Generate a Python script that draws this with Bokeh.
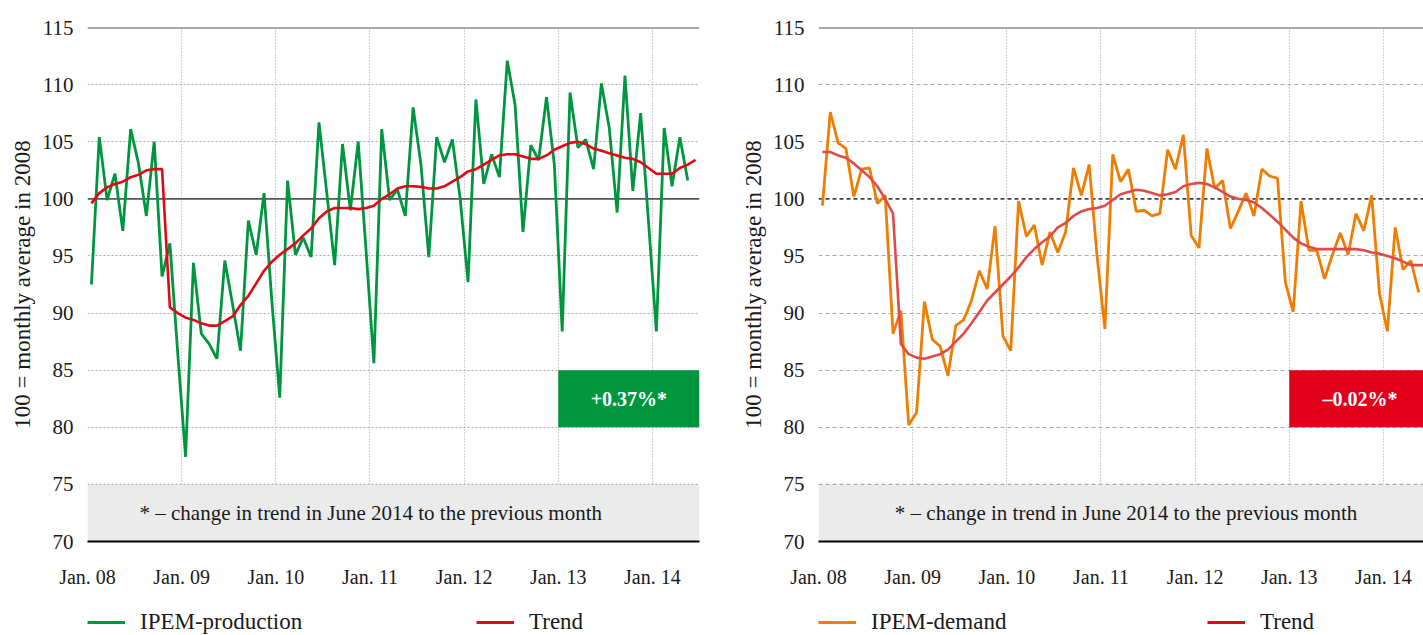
from bokeh.plotting import figure
from bokeh.models import FixedTicker, Legend, LegendItem, Range1d, Span, Label, BoxAnnotation
from bokeh.layouts import row, column
from bokeh.embed import file_html
from bokeh.resources import INLINE

FONT = "Liberation Serif"

# ---------------- data ----------------
tick_months = [0, 12, 24, 36, 48, 60, 72]
tick_labels = ["Jan. 08", "Jan. 09", "Jan. 10", "Jan. 11", "Jan. 12", "Jan. 13", "Jan. 14"]
y_ticks = [70, 75, 80, 85, 90, 95, 100, 105, 110, 115]

production = [
    92.5, 105.4, 99.9, 102.2, 97.2, 106.1, 103.1, 98.5, 105.0, 93.2, 96.1, 86.5,
    77.4, 94.4, 88.2, 87.3, 86.0, 94.6, 90.7, 86.7, 98.1, 95.1, 100.5, 91.0,
    82.6, 101.6, 95.1, 96.6, 94.9, 106.7, 100.5, 94.2, 104.8, 99.0, 105.0, 95.5,
    85.6, 106.1, 99.9, 100.8, 98.5, 108.0, 103.0, 94.9, 105.4, 103.2, 105.2, 100.0,
    92.7, 108.7, 101.3, 103.9, 101.9, 112.1, 108.2, 97.1, 104.7, 103.4, 108.9, 103.0,
    88.4, 109.3, 104.5, 105.2, 102.6, 110.1, 106.2, 98.8, 110.8, 100.7, 107.5, 98.0,
    88.4, 106.2, 101.1, 105.4, 101.6,
]
production_trend = [
    99.6, 100.5, 101.0, 101.3, 101.5, 101.9, 102.1, 102.5, 102.6, 102.6, 90.5, 90.0,
    89.6, 89.4, 89.1, 88.9, 88.9, 89.3, 89.7, 90.7, 91.5, 92.6, 93.7, 94.5,
    95.1, 95.6, 96.1, 96.8, 97.4, 98.3, 98.9, 99.2, 99.2, 99.2, 99.1, 99.2,
    99.4, 100.0, 100.4, 100.9, 101.1, 101.1, 101.05, 100.9, 100.9, 101.1, 101.5, 101.9,
    102.4, 102.6, 103.0, 103.4, 103.8, 103.9, 103.9, 103.7, 103.5, 103.5, 103.8, 104.3,
    104.6, 104.9, 105.0, 104.8, 104.4, 104.2, 104.0, 103.8, 103.6, 103.5, 103.2, 102.7,
    102.2, 102.2, 102.2, 102.7, 103.0, 103.4,
]
demand = [
    99.4, 107.6, 104.9, 104.4, 100.2, 102.6, 102.7, 99.6, 100.3, 88.2, 90.2, 80.2,
    81.3, 91.0, 87.7, 87.1, 84.5, 88.9, 89.4, 91.1, 93.7, 92.1, 97.6, 88.0,
    86.7, 99.8, 96.7, 97.7, 94.2, 97.1, 95.3, 97.1, 102.7, 100.3, 103.0, 95.0,
    88.6, 103.9, 101.5, 102.6, 98.9, 99.0, 98.5, 98.7, 104.3, 102.6, 105.6, 96.8,
    95.7, 104.4, 100.9, 101.6, 97.4, 98.9, 100.5, 98.5, 102.6, 102.0, 101.8, 92.7,
    90.1, 99.8, 95.5, 95.5, 93.0, 95.1, 97.0, 95.1, 98.7, 97.2, 100.3, 91.7,
    88.4, 97.5, 93.8, 94.6, 91.8,
]
demand_trend = [
    104.1, 104.1, 103.8, 103.6, 103.1, 102.5, 101.9, 101.1, 100.0, 98.7, 87.3, 86.4,
    86.1, 86.0, 86.2, 86.4, 86.8, 87.5, 88.2, 89.1, 90.1, 91.1, 91.8, 92.5,
    93.2, 94.0, 94.9, 95.6, 96.2, 96.7, 97.5, 97.9, 98.5, 98.9, 99.1, 99.2,
    99.4, 99.9, 100.4, 100.6, 100.8, 100.7, 100.5, 100.3, 100.4, 100.6, 101.1, 101.3,
    101.4, 101.3, 101.0, 100.6, 100.2, 100.0, 99.9, 99.7, 99.2, 98.6, 98.0, 97.3,
    96.6, 96.1, 95.8, 95.6, 95.6, 95.6, 95.6, 95.6, 95.6, 95.5, 95.3, 95.2,
    95.0, 94.8, 94.5, 94.2, 94.2, 94.2,
]

change_box_months = (60, 78)
change_box_values = (80, 85)
note_band = (70, 75)
note_text = "* \u2013 change in trend in June 2014 to the previous month"

CHART_H = 600
LEGEND_H = 35
LEFT_W = 731
RIGHT_W = 692
BORDER_L = 87
PX_PER_MONTH = 612 / 78


def make_chart(series, trend, s_color, t_color, change_text, box_color,
               width, x_end, min_right, hgrid_dash, ref_dash, ref_color, note_x):
    p = figure(width=width, height=CHART_H, x_range=Range1d(0, x_end), y_range=Range1d(70, 115),
               output_backend="svg", toolbar_location=None,
               min_border_left=BORDER_L, min_border_right=min_right, min_border_top=27,
               min_border_bottom=CHART_H - 27 - 514)
    p.outline_line_color = None
    p.background_fill_color = "white"

    p.yaxis.ticker = FixedTicker(ticks=y_ticks)
    p.yaxis.axis_line_color = None
    p.yaxis.major_tick_line_color = None
    p.yaxis.minor_tick_line_color = None
    p.yaxis.major_label_text_font = FONT
    p.yaxis.major_label_text_font_size = "21px"
    p.yaxis.major_label_text_color = "#1a1a1a"
    p.yaxis.major_label_standoff = 8
    p.yaxis.axis_label = "100 = monthly average in 2008"
    p.yaxis.axis_label_text_font = FONT
    p.yaxis.axis_label_text_font_size = "23px"
    p.yaxis.axis_label_text_font_style = "normal"
    p.yaxis.axis_label_text_color = "#1a1a1a"
    p.yaxis.axis_label_standoff = 4

    p.xaxis.ticker = FixedTicker(ticks=tick_months)
    p.xaxis.major_label_overrides = {m: l for m, l in zip(tick_months, tick_labels)}
    p.xaxis.axis_line_color = "black"
    p.xaxis.axis_line_width = 2
    p.xaxis.major_tick_line_color = None
    p.xaxis.minor_tick_line_color = None
    p.xaxis.major_label_text_font = FONT
    p.xaxis.major_label_text_font_size = "20px"
    p.xaxis.major_label_text_color = "#1a1a1a"
    p.xaxis.major_label_standoff = 18

    p.ygrid.ticker = FixedTicker(ticks=[v for v in y_ticks if v not in (70, 75, 100, 115)])
    p.ygrid.grid_line_color = "#aaaaaa"
    p.ygrid.grid_line_dash = hgrid_dash
    p.ygrid.grid_line_width = 1.2
    p.xgrid.ticker = FixedTicker(ticks=tick_months[1:])
    p.xgrid.grid_line_color = "#aaaaaa"
    p.xgrid.grid_line_dash = "1 2"
    p.xgrid.grid_line_width = 1.2

    p.add_layout(BoxAnnotation(bottom=note_band[0], top=note_band[1], fill_color="#ebebeb",
                               fill_alpha=1, line_color=None, level="underlay"))
    p.add_layout(Span(location=note_band[1], dimension="width", line_color="#aaaaaa",
                      line_dash=hgrid_dash, line_width=1.2, level="underlay"))
    p.add_layout(Span(location=100, dimension="width", line_color=ref_color,
                      line_dash=ref_dash, line_width=1.6, level="underlay"))
    p.add_layout(Span(location=115, dimension="width", line_color="#555555",
                      line_width=2, level="underlay"))
    p.add_layout(Label(x=note_x, y=sum(note_band) / 2, text=note_text, text_font=FONT,
                       text_font_size="21px", text_color="#1a1a1a", text_align="center",
                       text_baseline="middle"))

    p.quad(left=[change_box_months[0]], right=[change_box_months[1]],
           bottom=[change_box_values[0]], top=[change_box_values[1]],
           fill_color=box_color, line_color=None)
    p.add_layout(Label(x=sum(change_box_months) / 2, y=sum(change_box_values) / 2,
                       text=change_text, text_font=FONT, text_font_size="20px",
                       text_font_style="bold", text_color="white", text_align="center",
                       text_baseline="middle"))

    xs = [i + 0.5 for i in range(len(series))]
    xt = [i + 0.5 for i in range(len(trend))]
    p.line(xs, series, line_color=s_color, line_width=2.8)
    p.line(xt, trend, line_color=t_color, line_width=2.6)
    return p


def make_legend(name, s_color, t_leg_color, width, min_right):
    q = figure(width=width, height=LEGEND_H, x_range=Range1d(0, 1), y_range=Range1d(0, 1),
               output_backend="svg", toolbar_location=None,
               min_border_left=BORDER_L, min_border_right=min_right, min_border_top=0,
               min_border_bottom=0)
    q.axis.visible = False
    q.grid.visible = False
    q.outline_line_color = None
    # swatch-only renderers, kept outside the visible range
    r1 = q.line([5, 6], [5, 5], line_color=s_color, line_width=3)
    r2 = q.line([5, 6], [5, 5], line_color=t_leg_color, line_width=3)
    legend = Legend(items=[LegendItem(label=name, renderers=[r1]),
                           LegendItem(label="Trend", renderers=[r2])],
                    orientation="horizontal", location=(0, 0),
                    glyph_width=38, glyph_height=24, label_standoff=15,
                    label_width=300, spacing=36, padding=0, margin=0,
                    border_line_color=None, background_fill_alpha=0,
                    label_text_font=FONT, label_text_font_size="23px",
                    label_text_color="#1a1a1a")
    q.add_layout(legend)
    return q


right_frame = RIGHT_W - BORDER_L
left = make_chart(production, production_trend, "#009640", "#e30613",
                  "+0.37%*", "#009640", LEFT_W, 78, LEFT_W - BORDER_L - 612,
                  "2 2", "solid", "#555555", 36.1)
right = make_chart(demand, demand_trend, "#ef7d00", "#e04a4a",
                   "\u20130.02%*", "#e2001a", RIGHT_W, right_frame / PX_PER_MONTH, 0,
                   "4 3", "4 3", "#444444", 39.2)
left_leg = make_legend("IPEM-production", "#009640", "#e30613", LEFT_W, LEFT_W - BORDER_L - 612)
right_leg = make_legend("IPEM-demand", "#ef7d00", "#e30613", RIGHT_W, 0)

layout = column(row(left, right), row(left_leg, right_leg))
open("out.html", "w").write(file_html(layout, INLINE))
